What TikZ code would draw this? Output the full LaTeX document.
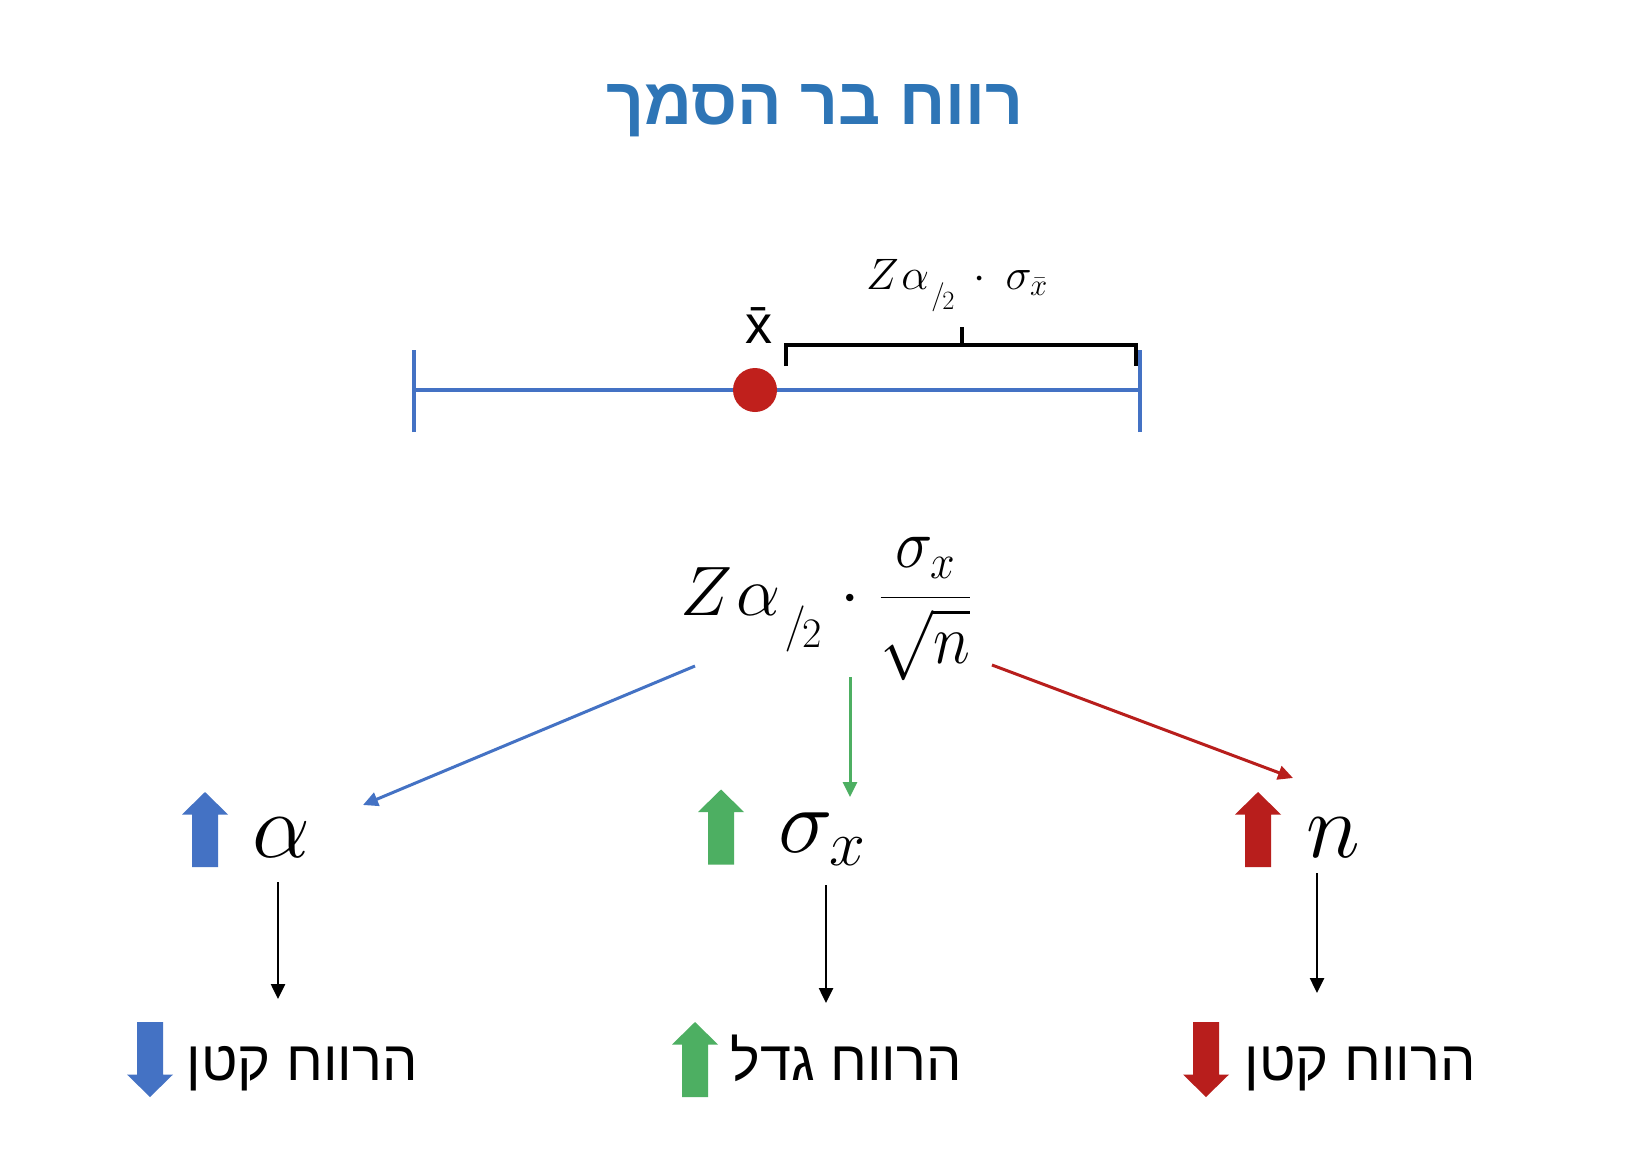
\RequirePackage{fix-cm}
\documentclass[tikz,border=0pt]{standalone}
\usepackage{fontspec}
\usepackage{amsmath}
\usepackage{graphicx}
\usetikzlibrary{arrows.meta}
\TeXXeTstate=1
\newfontfamily\hebfont[Script=Hebrew]{Liberation Sans}
\newfontfamily\latsans{Liberation Sans}
\definecolor{titleblue}{HTML}{2E75B6}
\definecolor{ciblue}{HTML}{4472C4}
\definecolor{dotred}{HTML}{C0201C}
\definecolor{arrgreen}{HTML}{4DAF62}
\definecolor{arrred}{HTML}{B81E1C}
\newcommand{\zhalf}{Z\mkern1mu\alpha\mkern1mu\raisebox{-0.36em}{\scalebox{0.66}{$/$}}\mkern-1mu\raisebox{-0.47em}{\scalebox{0.6}{$2$}}}
\tikzset{
  uparr/.pic={\fill (0,-37.5) -- (23,-15) -- (13,-15) -- (13,37.5) -- (-13,37.5) -- (-13,-15) -- (-23,-15) -- cycle;},
  downarr/.pic={\fill (0,37.5) -- (23,15) -- (13,15) -- (13,-37.5) -- (-13,-37.5) -- (-13,15) -- (-23,15) -- cycle;},
  conn/.style={line width=3pt, -{Triangle[length=15pt,width=14pt]}},
  blackarr/.style={line width=2.5pt, black, -{Triangle[length=15pt,width=14pt]}},
  hebtext/.style={anchor=base, inner sep=0pt, font=\fontsize{56}{66}\hebfont},
  bigsym/.style={anchor=base, inner sep=0pt, font=\fontsize{92}{110}\selectfont},
}
\begin{document}
\begin{tikzpicture}[x=1pt,y=-1pt]
\path[use as bounding box, fill=white] (0,0) rectangle (1640,1152);

% title
\node[anchor=base, inner sep=0pt, font=\fontsize{66}{78}\hebfont\bfseries, text=titleblue] (title) at (815,124) {\beginR רווח בר הסמך\endR};

% confidence interval
\coordinate (L) at (414,390);
\coordinate (R) at (1140,390);
\draw[ciblue, line width=4pt] (L) -- (R);
\draw[ciblue, line width=4pt] ([yshift=-42pt]L) -- ([yshift=40pt]L);
\draw[ciblue, line width=4pt] ([yshift=-42pt]R) -- ([yshift=40pt]R);
\node[circle, fill=dotred, minimum size=44pt, inner sep=0pt] (xbar) at (755,390) {};
\node[anchor=base, inner sep=0pt, font=\fontsize{54}{62}\latsans] (xlabel) at (759,343) {\=x};

% bracket
\coordinate (bl) at (786,366);
\coordinate (br) at (1136,366);
\coordinate (bm) at (962,327);
\draw[black, line width=3.5pt] (bl) |- (962,345) -| (br);
\draw[black, line width=3.5pt] (962,345) -- (bm);
\node[anchor=base, inner sep=0pt, font=\fontsize{44}{52}\selectfont] (zlabel) at (957,289) {$\zhalf\mkern4mu\cdot\mkern4mu\sigma_{\bar x}$};

% main formula
\node[anchor=base, inner sep=0pt, font=\fontsize{70}{84}\selectfont] (formula) at (826,615) {$\zhalf\mkern1mu\cdot\mkern1mu\scalebox{0.9}[1]{$\dfrac{\sigma_x}{\sqrt{n}}$}$};

% symbols
\node[bigsym] (alpha) at (281,857) {$\alpha$};
\node[bigsym] (sigma) at (822,852) {$\sigma_x$};
\node[bigsym] (nn) at (1333,857) {$n$};

% connectors from formula
\coordinate (bs) at (695,666);
\coordinate (be) at (363,805);
\coordinate (gs) at (850,677);
\coordinate (ge) at (850,797);
\coordinate (rs) at (992,665);
\coordinate (re) at (1293,778);
\draw[conn, ciblue] (bs) -- (be);
\draw[conn, arrgreen] (gs) -- (ge);
\draw[conn, arrred] (rs) -- (re);

% block arrows
\pic[fill=ciblue] at (205,829.5) {uparr};
\pic[fill=arrgreen] at (721,827) {uparr};
\pic[fill=arrred] at (1258,829.5) {uparr};
\pic[fill=ciblue] at (150,1059.5) {downarr};
\pic[fill=arrgreen] at (695,1059.5) {uparr};
\pic[fill=arrred] at (1206,1059.5) {downarr};

% black arrows
\coordinate (a1) at (278,882);
\coordinate (a2) at (278,999);
\coordinate (s1) at (826,885);
\coordinate (s2) at (826,1003);
\coordinate (n1) at (1317,873);
\coordinate (n2) at (1317,993);
\draw[blackarr] (a1) -- (a2);
\draw[blackarr] (s1) -- (s2);
\draw[blackarr] (n1) -- (n2);

% result texts
\node[hebtext] (res1) at (302,1080) {\beginR הרווח קטן\endR};
\node[hebtext] (res2) at (846,1080) {\beginR הרווח גדל\endR};
\node[hebtext] (res3) at (1360,1080) {\beginR הרווח קטן\endR};
\end{tikzpicture}
\end{document}
